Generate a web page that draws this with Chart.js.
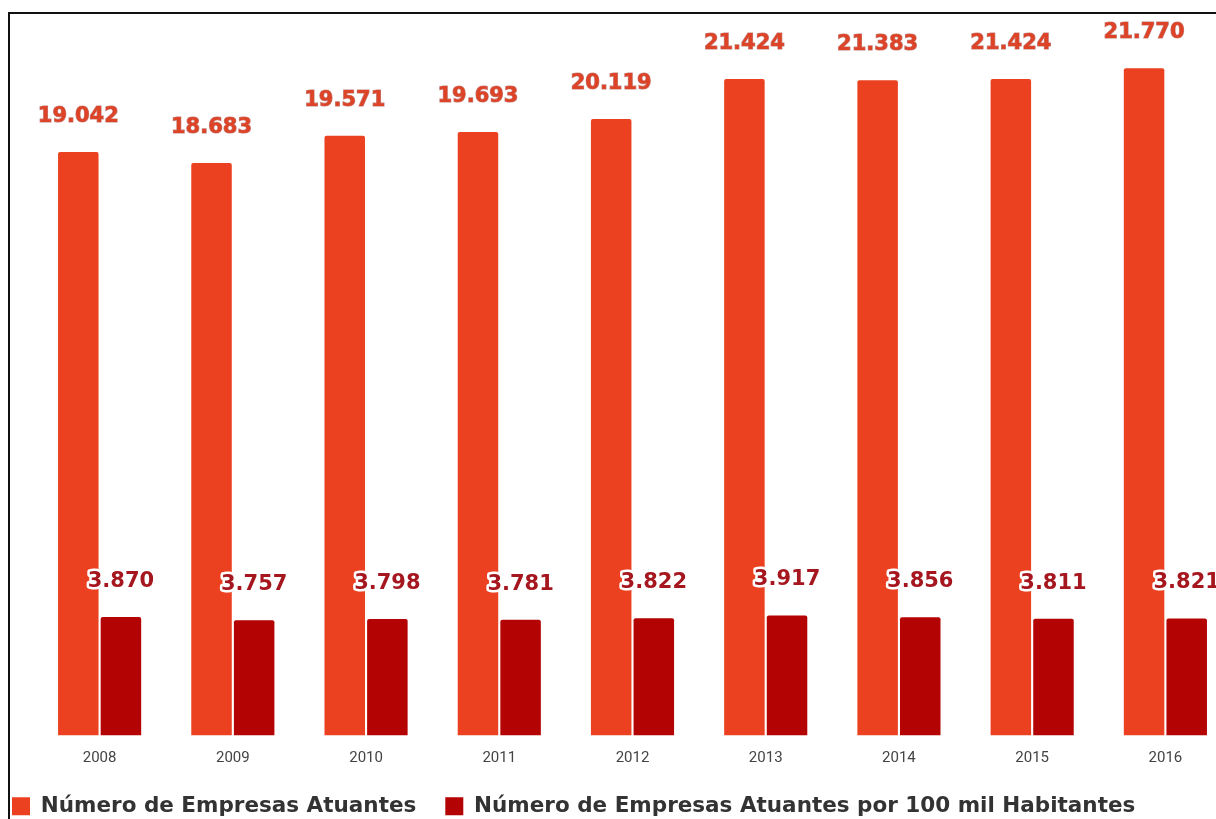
<!DOCTYPE html>
<html lang="pt-BR">
<head>
<meta charset="utf-8">
<title>Empresas Atuantes 2008-2016</title>
<script src="https://cdn.jsdelivr.net/npm/chart.js@4.4.1/dist/chart.umd.min.js"></script>
<style>
  html, body { margin: 0; padding: 0; background: #fff; overflow: hidden; width: 1216px; height: 819px; }
  /* canvas is a bit wider/taller than the window: the original picture is cropped on the right */
  #wrap { position: absolute; left: -17px; top: 0; width: 1260px; height: 827px; }
  #frame { position: absolute; left: 8px; top: 12px; width: 1300px; height: 900px;
           border-top: 2px solid #111; border-left: 2px solid #111; pointer-events: none; }
</style>
</head>
<body>
<div id="wrap"><canvas id="chart"></canvas></div>
<div id="frame"></div>
<script>
// ---------- DATA ----------
const anos = ["2008", "2009", "2010", "2011", "2012", "2013", "2014", "2015", "2016"];
const empresas = [19042, 18683, 19571, 19693, 20119, 21424, 21383, 21424, 21770];
const empresasPor100mil = [3870, 3757, 3798, 3781, 3822, 3917, 3856, 3811, 3821];

const COR_EMPRESAS = "#EC4120";
const COR_POR100MIL = "#B30303";

// 19042 -> "19.042"
function fmt(v) {
  return String(v).replace(/\B(?=(\d{3})+(?!\d))/g, ".");
}

// ---------- VALUE LABELS ----------
// Small inline plugin (no datalabels plugin offline): text sits ~30px above each bar top.
const valueLabels = {
  id: "valueLabels",
  afterDatasetsDraw(chart) {
    const ctx = chart.ctx;
    ctx.save();
    ctx.font = "bold 21px 'DejaVu Sans'";
    ctx.textAlign = "center";
    ctx.textBaseline = "alphabetic";
    chart.data.datasets.forEach((ds, i) => {
      const meta = chart.getDatasetMeta(i);
      meta.data.forEach((bar, j) => {
        const txt = fmt(ds.data[j]);
        const y = bar.y - 30;
        if (i === 0) {
          ctx.lineWidth = 1.2;
          ctx.strokeStyle = "rgba(150,35,30,0.55)";
          ctx.strokeText(txt, bar.x, y);
          ctx.fillStyle = "#DD4326";
          ctx.fillText(txt, bar.x, y);
        } else {
          ctx.lineWidth = 5;
          ctx.lineJoin = "round";
          ctx.strokeStyle = "#fff";
          ctx.strokeText(txt, bar.x, y);
          ctx.fillStyle = "#A5161E";
          ctx.fillText(txt, bar.x, y);
        }
      });
    });
    ctx.restore();
  }
};

// ---------- CHART ----------
new Chart(document.getElementById("chart"), {
  type: "bar",
  data: {
    labels: anos,
    datasets: [
      {
        label: "Número de Empresas Atuantes",
        data: empresas,
        backgroundColor: COR_EMPRESAS,
        borderWidth: 0,
        borderRadius: 2,
        borderSkipped: "bottom"
      },
      {
        label: "Número de Empresas Atuantes por 100 mil Habitantes",
        data: empresasPor100mil,
        backgroundColor: COR_POR100MIL,
        borderWidth: 0,
        borderRadius: 2,
        borderSkipped: "bottom"
      }
    ]
  },
  options: {
    responsive: true,
    maintainAspectRatio: false,
    animation: false,
    layout: { padding: { left: 0, right: 11, top: 0, bottom: 0 } },
    categoryPercentage: 0.64,
    barPercentage: 0.95,
    plugins: {
      tooltip: { enabled: false },
      legend: {
        position: "bottom",
        align: "start",
        labels: {
          boxWidth: 18,
          boxHeight: 18,
          padding: 29,
          color: "#333",
          font: { family: "'DejaVu Sans'", size: 21.5, weight: "bold" }
        }
      }
    },
    scales: {
      x: {
        grid: { display: false },
        border: { display: false },
        ticks: {
          color: "#444",
          padding: 6,
          font: { family: "Roboto", size: 15 }
        },
        // keep the plot bottom where it was while the legend moves up
        afterFit(axis) { axis.height -= 7; }
      },
      y: {
        min: 0,
        max: 24000,
        grid: { display: false },
        border: { display: false },
        ticks: { display: false },
        afterFit(axis) { axis.width = 50; }
      }
    }
  },
  plugins: [valueLabels]
});
</script>
</body>
</html>
